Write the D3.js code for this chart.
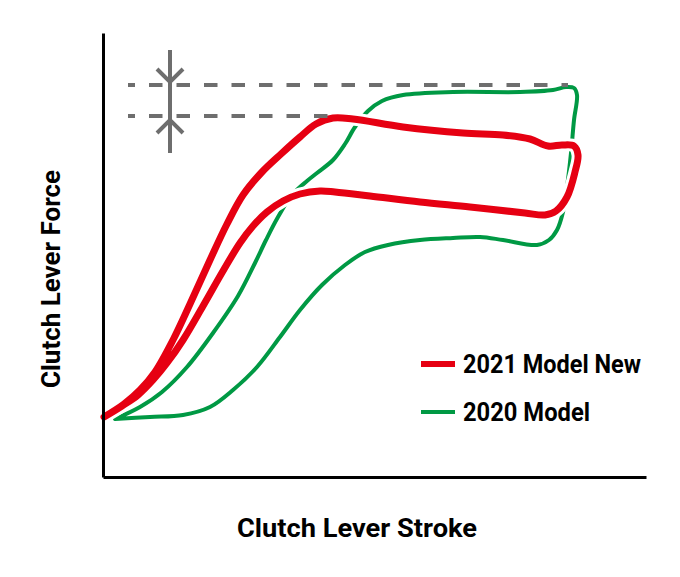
<!DOCTYPE html>
<html>
<head>
<meta charset="utf-8">
<script src="https://cdn.jsdelivr.net/npm/d3@7/dist/d3.min.js"></script>
<style>
  html, body { margin: 0; padding: 0; background: #fff; }
  svg { display: block; }
  .lbl { font-family: 'Roboto', 'Liberation Sans', sans-serif; font-weight: bold; fill: #000; }
</style>
</head>
<body>
<div id="chart"></div>
<script>
// ---------- DATA (arbitrary units: stroke, force) ----------
const xTitle = "Clutch Lever Stroke";
const yTitle = "Clutch Lever Force";
const seriesNames = ["2021 Model New", "2020 Model"];

// 2021 Model New hysteresis loop (loading branch, then return branch)
const red2021Stroke = [1,21,37,52,70,87,107,124,140,159,178,197,213,230,250,300,360,400,427,445,459,471,475,472,464,453,442,422,367,317,267,232,217,197,180,164,150,137,120,100,80,64,50,35,19,1];
const red2021Force  = [60,73,87,105,137,173,217,253,282,305,323,340,353,359,358,350,344,342,338,331,332,331,322,305,280,266,262,264,270,275,281,285,286,283,276,265,251,234,206,171,137,114,97,82,71,60];

// 2020 Model hysteresis loop
const green2020Stroke = [12,37,59,84,110,135,152,163,175,189,204,214,230,242,252,265,279,300,350,417,450,463,471,474,471,468,464,460,454,446,434,400,377,350,317,285,262,242,219,197,177,154,130,107,80,47,12];
const green2020Force  = [58,70,85,110,144,181,214,237,260,282,296,304,317,333,350,366,376,382,385,385,387,390,389,382,357,324,290,265,247,237,232,237,240,239,237,232,225,212,192,167,140,110,87,70,62,60,58];

// reference force levels (dashed lines) and their extents
const refForce = [392, 361];
const refStart = [25, 25];
const refEnd   = [465, 234];
// difference marker
const markerStroke = 67;
const markerTop = 427, markerBottom = 324;

// ---------- LAYOUT ----------
const W = 680, H = 577;
const plot = { left: 103, right: 646, top: 33, bottom: 477 };
const colors = { red: "#e60012", green: "#009944", gray: "#6e6e6e" };

const x = d3.scaleLinear().domain([0, 543]).range([plot.left, plot.right]);
const y = d3.scaleLinear().domain([0, 444]).range([plot.bottom, plot.top]);

const svg = d3.select("#chart").append("svg").attr("width", W).attr("height", H);

const line = d3.line().x(d => x(d[0])).y(d => y(d[1])).curve(d3.curveCatmullRom.alpha(0.5));

const greenPts = green2020Stroke.map((s, i) => [s, green2020Force[i]]);
const redPts = red2021Stroke.map((s, i) => [s, red2021Force[i]]);

// green loop
svg.append("path").attr("d", line(greenPts))
  .attr("fill", "none").attr("stroke", colors.green).attr("stroke-width", 4)
  .attr("stroke-linejoin", "round").attr("stroke-linecap", "round");

// red loop with white halo
svg.append("path").attr("d", line(redPts))
  .attr("fill", "none").attr("stroke", "#fff").attr("stroke-width", 13)
  .attr("stroke-linejoin", "round");
svg.append("path").attr("d", line(redPts))
  .attr("fill", "none").attr("stroke", colors.red).attr("stroke-width", 7)
  .attr("stroke-linejoin", "round").attr("stroke-linecap", "round");

// axes (lines only)
svg.append("g").attr("transform", `translate(0,${plot.bottom})`)
  .call(d3.axisBottom(x).ticks(0).tickSize(0).tickSizeOuter(0))
  .call(g => g.select(".domain").attr("stroke", "#000").attr("stroke-width", 3));
svg.append("g").attr("transform", `translate(${plot.left},0)`)
  .call(d3.axisLeft(y).ticks(0).tickSize(0).tickSizeOuter(0))
  .call(g => g.select(".domain").attr("stroke", "#000").attr("stroke-width", 3));
svg.selectAll(".tick").remove();

// dashed reference lines
refForce.forEach((f, i) => {
  svg.append("line")
    .attr("x1", x(refStart[i])).attr("x2", x(refEnd[i]))
    .attr("y1", y(f)).attr("y2", y(f))
    .attr("stroke", colors.gray).attr("stroke-width", 4)
    .attr("stroke-dasharray", "13.5,14").attr("stroke-dashoffset", 6.5);
});

// difference marker: vertical bar with two arrowheads
const mx = x(markerStroke);
svg.append("line").attr("x1", mx).attr("x2", mx)
  .attr("y1", y(markerTop)).attr("y2", y(markerBottom))
  .attr("stroke", colors.gray).attr("stroke-width", 4);
const a1 = y(refForce[0]) - 3, a2 = y(refForce[1]) + 4;
svg.append("path")
  .attr("d", `M${mx-13},${a1-13}L${mx},${a1}L${mx+13},${a1-13}`)
  .attr("fill", "none").attr("stroke", colors.gray).attr("stroke-width", 4);
svg.append("path")
  .attr("d", `M${mx-13},${a2+13}L${mx},${a2}L${mx+13},${a2+13}`)
  .attr("fill", "none").attr("stroke", colors.gray).attr("stroke-width", 4);

// axis titles
svg.append("text").attr("class", "lbl")
  .attr("x", 237).attr("y", 537)
  .attr("font-size", 25).attr("textLength", 240).attr("lengthAdjust", "spacingAndGlyphs")
  .text(xTitle);
svg.append("text").attr("class", "lbl")
  .attr("transform", "translate(60,388) rotate(-90)")
  .attr("font-size", 25).attr("textLength", 218).attr("lengthAdjust", "spacingAndGlyphs")
  .text(yTitle);

// legend
const legendColors = [colors.red, colors.green];
const legendWidths = [6, 4];
const legendY = [364, 412];
const legendTextLen = [178, 127];
seriesNames.forEach((name, i) => {
  svg.append("line").attr("x1", 421).attr("x2", 455)
    .attr("y1", legendY[i]).attr("y2", legendY[i])
    .attr("stroke", legendColors[i]).attr("stroke-width", legendWidths[i]);
  svg.append("text").attr("class", "lbl")
    .attr("x", 463).attr("y", legendY[i] + 9)
    .attr("font-size", 25).attr("textLength", legendTextLen[i]).attr("lengthAdjust", "spacingAndGlyphs")
    .text(name);
});
</script>
</body>
</html>
